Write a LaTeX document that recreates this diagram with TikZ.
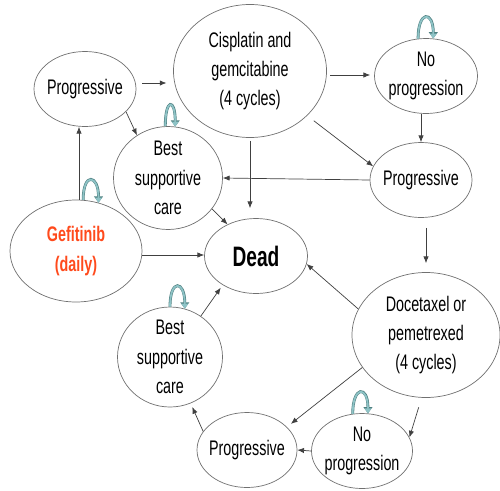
\documentclass[tikz,border=0pt]{standalone}
\usepackage{fontspec}
\setmainfont[FakeStretch=0.68]{Liberation Sans}
\usetikzlibrary{shapes.geometric,arrows.meta}
\definecolor{edgegray}{HTML}{404040}
\definecolor{rimgray}{HTML}{707070}
\definecolor{loopfill}{HTML}{8EC3C6}
\definecolor{loopedge}{HTML}{4E7F80}
\definecolor{gefred}{HTML}{FF4A1C}

\begin{document}
\begin{tikzpicture}[
    x=0.3mm, y=-0.3mm,
    state/.style={ellipse,draw=rimgray,line width=0.6pt,inner sep=-1.5mm,align=center,font=\fontsize{18}{25}\selectfont},
    arr/.style={-{Latex[length=2mm,width=1.6mm]},draw=edgegray,line width=0.6pt},
    selfloop/.style={-{Triangle[length=1.5mm,width=2mm]},line width=1.5pt,draw=loopfill,
      preaction={draw=loopedge,line width=2.4pt,-{Triangle[length=1.9mm,width=2.6mm]}},
      out=90,in=90,distance=8.5mm}
    ]
    \useasboundingbox (0,0) rectangle (500,490);

    % first line states:
    \node (gef) at (76,251) [state,minimum width=39.6mm,minimum height=30.6mm,text=gefred,font=\fontsize{18}{25}\selectfont\bfseries] {Gefitinib\\(daily)};
    \node (prog1) at (85,89) [state,minimum width=30.6mm,minimum height=22.5mm] {Progressive};
    \node (bsc1) at (168,178) [state,minimum width=32.7mm,minimum height=30.9mm] {Best\\supportive\\care};

    % second line states:
    \node (cis) at (250,71) [state,minimum width=45.9mm,minimum height=39.9mm] {Cisplatin and\\gemcitabine\\(4 cycles)};
    \node (nop1) at (426,76) [state,minimum width=30.9mm,minimum height=22.5mm] {No\\progression};
    \node (prog2) at (421,180) [state,minimum width=30.6mm,minimum height=22.5mm] {Progressive};

    % third line states:
    \node (doc) at (426,335) [state,minimum width=44.4mm,minimum height=37.5mm] {Docetaxel or\\pemetrexed\\(4 cycles)};
    \node (nop2) at (362,451) [state,minimum width=30.3mm,minimum height=22.5mm] {No\\progression};
    \node (prog3) at (247,450) [state,minimum width=30mm,minimum height=22.5mm] {Progressive};
    \node (bsc2) at (170,357) [state,minimum width=31.5mm,minimum height=30mm] {Best\\supportive\\care};

    \node (dead) at (256,256) [state,minimum width=30.9mm,minimum height=22.5mm,font=\fontsize{24}{28}\selectfont\bfseries] {Dead};

    % connections:
    \draw [arr] ([xshift=0.9mm]gef.north) -- ([xshift=0.9mm]gef.north |- prog1.south);
    \draw [arr] ([yshift=-1.2mm]gef.east) -- ([yshift=-1.2mm]gef.east -| dead.west);
    \draw [arr,shorten <=1.8mm,shorten >=2mm] ([yshift=1.8mm]prog1.east) -- ([yshift=1.8mm]prog1.east -| cis.west);
    \draw [arr] (prog1.-29) -- (bsc1.126);
    \draw [arr] (bsc1.-35) -- (dead.132);

    \draw [arr,shorten <=1mm,shorten >=1.2mm] ([yshift=-1.2mm]cis.east) -- ([yshift=-1.2mm]cis.east -| nop1.west);
    \draw [arr,shorten <=2.5mm] (cis.-38) -- (prog2.164);
    \draw [arr,shorten <=0.9mm,shorten >=3mm] (cis.south) -- (cis.south |- dead.north);
    \draw [arr] (prog2.north |- nop1.south) -- (prog2.north);
    \draw [arr] (prog2.west) -- (bsc1.east);
    \draw [arr,shorten <=3mm,shorten >=2.7mm] (doc.north |- prog2.south) -- (doc.north);

    \draw [arr] (doc.159) -- (dead.-9);
    \draw [arr,shorten >=1.5mm] (doc.207) -- (prog3.30);
    \draw [arr,shorten <=3mm] (doc.-94) -- (nop2.16);
    \draw [arr] (nop2.west) -- (prog3.east);
    \draw [arr,shorten >=1.2mm] (prog3.157) -- (bsc2.-66);
    \draw [arr,shorten >=1mm] (bsc2.53) -- (dead.221);

    % self loops:
    \draw [selfloop] (gef.82) to (gef.65);
    \draw [selfloop] (bsc1.93) to (bsc1.82);
    \draw [selfloop] (nop1.102) to (nop1.79);
    \draw [selfloop] (bsc2.90) to (bsc2.73);
    \draw [selfloop] (nop2.104) to (nop2.81);

\end{tikzpicture}
\end{document}
